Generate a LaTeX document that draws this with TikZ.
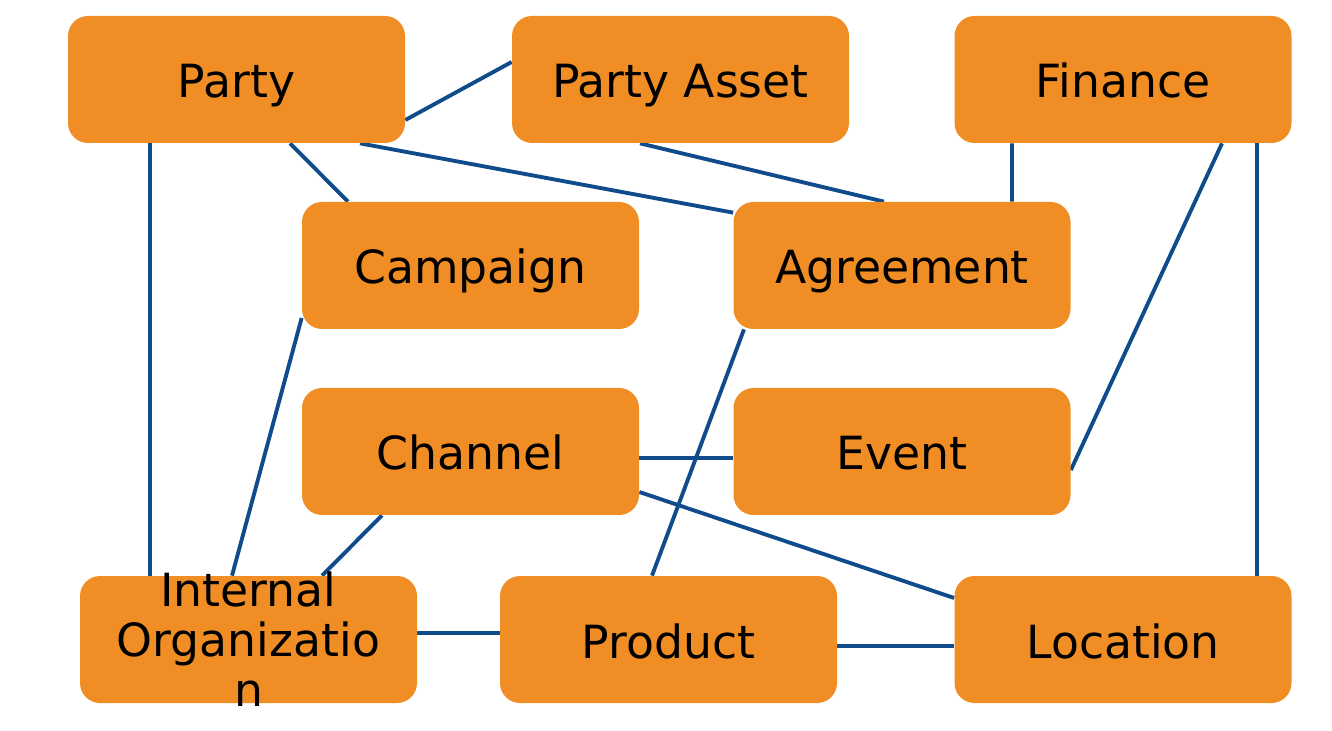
\documentclass[tikz,border=0pt]{standalone}
\usepackage{fontspec}
\setmainfont{DejaVu Sans}
\usepackage{tikz}
\usetikzlibrary{calc, backgrounds}
\definecolor{BoxOrange}{RGB}{240,141,36}
\definecolor{LinkBlue}{RGB}{16,76,140}

\begin{document}
\begin{tikzpicture}[
  box/.style={fill=BoxOrange, rounded corners=0.4cm, minimum width=6.74cm,
    minimum height=2.54cm, inner sep=0pt, text height=0.74cm, text depth=0pt,
    font=\fontsize{26}{28.5}\selectfont},
  link/.style={draw=LinkBlue, line width=2.2pt},
]
\useasboundingbox (0,0) rectangle (26.64,14.6);

% Top row
\node[box] (party)   at (4.73,13.01)  {Party};
\node[box] (asset)   at (13.61,13.01) {Party Asset};
\node[box] (finance) at (22.46,13.01) {Finance};

% Middle rows
\node[box] (campaign)  at (9.41,9.29)  {Campaign};
\node[box] (agreement) at (18.04,9.29) {Agreement};
\node[box] (channel)   at (9.41,5.57)  {Channel};
\node[box] (event)     at (18.04,5.57) {Event};

% Bottom row
\node[box, text height=0pt, text depth=1.34cm] (intorg) at (4.97,1.81)
  {\parbox[t]{6.5cm}{\centering Internal\\Organizatio\\n}};
\node[box] (product)  at (13.37,1.81) {Product};
\node[box] (location) at (22.46,1.81) {Location};

% Links
\begin{pgfonlayer}{background}
\draw[link] ([yshift=-0.81cm]party.east) -- ([yshift=0.35cm]asset.west);
\draw[link] ([xshift=-1.73cm]party.south) -- ([xshift=-1.97cm]intorg.north);
\draw[link] ([xshift=1.07cm]party.south) -- ([xshift=-2.45cm]campaign.north);
\draw[link] ([xshift=2.47cm]party.south) -- ([yshift=-0.22cm]agreement.north west);
\draw[link] ([xshift=-0.81cm]asset.south) -- ([xshift=-0.36cm]agreement.north);
\draw[link] ([xshift=-2.22cm]finance.south) -- ([xshift=2.2cm]agreement.north);
\draw[link] ([xshift=1.98cm]finance.south) -- ([yshift=-0.37cm]event.east);
\draw[link] ([xshift=2.68cm]finance.south) -- ([xshift=2.68cm]location.north);
\draw[link] ([yshift=-1.05cm]campaign.west) -- ([xshift=-0.33cm]intorg.north);
\draw[link] ([xshift=-3.16cm]agreement.south) -- ([xshift=-0.33cm]product.north);
\draw[link] ([yshift=-0.13cm]channel.east) -- ([yshift=-0.13cm]event.west);
\draw[link] ([xshift=-1.77cm]channel.south) -- ([xshift=1.47cm]intorg.north);
\draw[link] ([yshift=-0.81cm]channel.east) -- ([yshift=0.83cm]location.west);
\draw[link] ([yshift=0.13cm]intorg.east) -- ([yshift=0.13cm]product.west);
\draw[link] ([yshift=-0.13cm]product.east) -- ([yshift=-0.13cm]location.west);
\end{pgfonlayer}

\end{tikzpicture}
\end{document}
